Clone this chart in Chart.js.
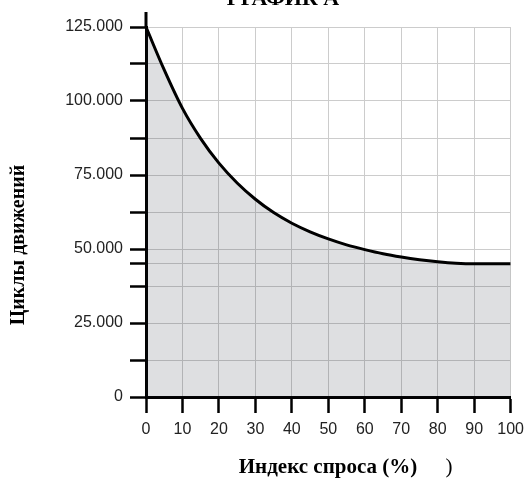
<!DOCTYPE html>
<html>
<head>
<meta charset="utf-8">
<script src="https://cdn.jsdelivr.net/npm/chart.js@4/dist/chart.umd.min.js"></script>
<style>
  html, body { margin: 0; padding: 0; background: #fff; }
  #wrap { width: 531px; height: 478px; position: relative; }
</style>
</head>
<body>
<div id="wrap"><canvas id="chart"></canvas></div>
<script>
// ============================================
// DATA (every 5 %)
// ============================================
const demandIndex = [0, 5, 10, 15, 20, 25, 30, 35, 40, 45, 50, 55, 60, 65, 70, 75, 80, 85, 90, 95, 100];
const cycles = [125000, 110500, 97500, 87300, 79000, 72300, 66800, 62300, 58700, 55800, 53400,
                51400, 49800, 48400, 47300, 46400, 45700, 45200, 45000, 45000, 45000];
const yTickValues = [0, 12500, 25000, 37500, 45000, 50000, 62500, 75000, 87500, 100000, 112500, 125000];
const yLabelStep = 25000;

const chartTitle = 'ГРАФИК А';
const xTitle = 'Индекс спроса (%)';
const yTitle = 'Циклы движений';

function formatThousands(v) {
  return String(v).replace(/\B(?=(\d{3})+(?!\d))/g, '.');
}

// ============================================
// TEXT + AXIS EXTENSION PLUGIN
// ============================================
const decorPlugin = {
  id: 'decor',
  afterDraw(chart) {
    const ctx = chart.ctx;
    const area = chart.chartArea;
    const x0 = chart.scales.x.getPixelForValue(0);

    // y axis runs a bit above the plot
    ctx.save();
    ctx.strokeStyle = '#000';
    ctx.lineWidth = 3;
    ctx.beginPath();
    ctx.moveTo(x0, area.top - 15);
    ctx.lineTo(x0, area.top);
    ctx.stroke();

    ctx.fillStyle = '#000';
    ctx.font = 'bold 22px "Liberation Serif", serif';
    ctx.textAlign = 'center';
    ctx.textBaseline = 'alphabetic';
    ctx.fillText(chartTitle, 283, 5);

    ctx.font = 'bold 21px "Liberation Serif", serif';
    ctx.textBaseline = 'middle';
    ctx.fillText(xTitle, 328, 468);
    ctx.font = '21px "Liberation Serif", serif';
    ctx.fillText(')', 449, 467);

    ctx.translate(19, 245);
    ctx.rotate(-Math.PI / 2);
    ctx.font = 'bold 20px "Liberation Serif", serif';
    ctx.fillText(yTitle, 0, 0);
    ctx.restore();
  }
};

// ============================================
// CHART
// ============================================
const ctx = document.getElementById('chart').getContext('2d');

new Chart(ctx, {
  type: 'line',
  data: {
    datasets: [{
      data: demandIndex.map((x, i) => ({ x: x, y: cycles[i] })),
      borderColor: '#000',
      borderWidth: 3,
      backgroundColor: 'rgba(20,25,40,0.14)',
      fill: 'origin',
      cubicInterpolationMode: 'monotone',
      pointRadius: 0
    }]
  },
  options: {
    responsive: true,
    maintainAspectRatio: false,
    animation: false,
    layout: { padding: { top: 27, right: 15, left: 0, bottom: 0 } },
    plugins: {
      legend: { display: false },
      tooltip: { enabled: false }
    },
    scales: {
      x: {
        type: 'linear',
        min: 0,
        max: 100,
        afterFit: (scale) => { scale.height = 81; },
        ticks: {
          stepSize: 10,
          padding: 7,
          color: '#222',
          font: { family: '"Liberation Sans", Arial, sans-serif', size: 16 },
          maxRotation: 0
        },
        grid: {
          color: '#cccccc',
          lineWidth: 1,
          drawTicks: true,
          tickLength: 16,
          tickColor: '#000',
          tickWidth: 2.5
        },
        border: { display: true, color: '#000', width: 3 }
      },
      y: {
        min: 0,
        max: 125000,
        afterFit: (scale) => { scale.width = 146; },
        afterBuildTicks: (scale) => {
          scale.ticks = yTickValues.slice().sort((a, b) => a - b).map(v => ({ value: v }));
        },
        ticks: {
          autoSkip: false,
          padding: 7,
          color: '#222',
          font: { family: '"Liberation Sans", Arial, sans-serif', size: 16 },
          callback: (v) => (v % yLabelStep === 0 ? formatThousands(v) : '')
        },
        grid: {
          color: '#cccccc',
          lineWidth: 1,
          drawTicks: true,
          tickLength: 16,
          tickColor: '#000',
          tickWidth: 2.5
        },
        border: { display: true, color: '#000', width: 3 }
      }
    }
  },
  plugins: [decorPlugin]
});
</script>
</body>
</html>
